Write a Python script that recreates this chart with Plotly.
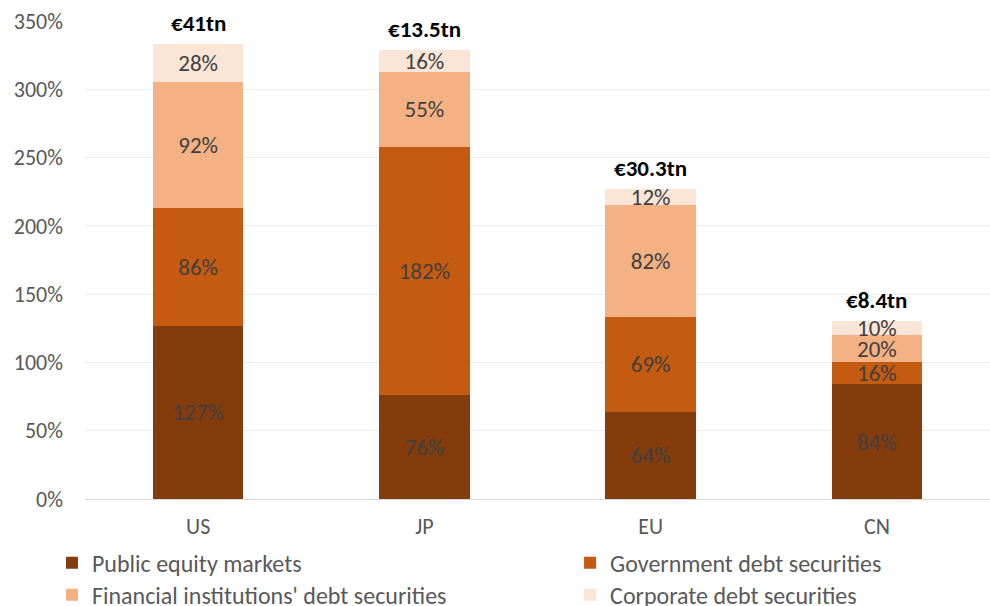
import plotly.graph_objects as go

categories = ["US", "JP", "EU", "CN"]
public_equity = [127, 76, 64, 84]
government_debt = [86, 182, 69, 16]
financial_debt = [92, 55, 82, 20]
corporate_debt = [28, 16, 12, 10]
totals_label = ["€41tn", "€13.5tn", "€30.3tn", "€8.4tn"]
y_ticks = [0, 50, 100, 150, 200, 250, 300, 350]

FONT = "Carlito, Calibri, Lato, sans-serif"
series = [
    ("Public equity markets", public_equity, "#843C0C", "legend"),
    ("Government debt securities", government_debt, "#C55A11", "legend2"),
    ("Financial institutions' debt securities", financial_debt, "#F4B183", "legend3"),
    ("Corporate debt securities", corporate_debt, "#FBE5D6", "legend4"),
]

fig = go.Figure()
for name, vals, color, lg in series:
    fig.add_trace(go.Bar(
        x=categories, y=vals, name=name, marker=dict(color=color, line=dict(width=0)),
        text=[f"{v}%" for v in vals], textposition="inside", insidetextanchor="middle",
        textangle=0, constraintext="none",
        textfont=dict(family=FONT, size=23, color="#404040"),
        legend=lg, showlegend=True, hoverinfo="skip",
    ))

totals = [a + b + c + d for a, b, c, d in zip(public_equity, government_debt, financial_debt, corporate_debt)]
for cat, tot, lab in zip(categories, totals, totals_label):
    fig.add_annotation(x=cat, y=tot, text=f"<b>{lab}</b>", showarrow=False,
                       yanchor="bottom", yshift=5,
                       font=dict(family=FONT, size=23, color="#000000"))

def leg(x, y):
    return dict(visible=True, orientation="v", x=x, xanchor="left", y=y, yanchor="middle",
                font=dict(family=FONT, size=24, color="#595959"),
                bgcolor="rgba(0,0,0,0)")

fig.update_layout(
    barmode="stack", bargap=0.6,
    width=990, height=606,
    showlegend=True,
    margin=dict(l=85, r=0, t=21, b=107, autoexpand=False),
    plot_bgcolor="white", paper_bgcolor="white",
    uniformtext=dict(minsize=23, mode="show"),
    font=dict(family=FONT, size=22, color="#595959"),
    xaxis=dict(showgrid=False, showline=True, linecolor="#D9D9D9", linewidth=1,
               tickfont=dict(family=FONT, size=22, color="#595959"), ticks="",
               ticklabelstandoff=8),
    yaxis=dict(range=[0, 350], tickvals=y_ticks, ticktext=[f"{t}%" for t in y_ticks],
               showgrid=True, gridcolor="#EDEDED", gridwidth=1, zeroline=False,
               tickfont=dict(family=FONT, size=22, color="#595959"), ticks="",
               ticklabelstandoff=21),
    legend=leg(-0.0365, -0.134),
    legend2=leg(0.536, -0.134),
    legend3=leg(-0.0365, -0.201),
    legend4=leg(0.536, -0.201),
)

fig.write_html("out.html", config={"displayModeBar": False},
               post_script="document.body.style.margin='0';")
